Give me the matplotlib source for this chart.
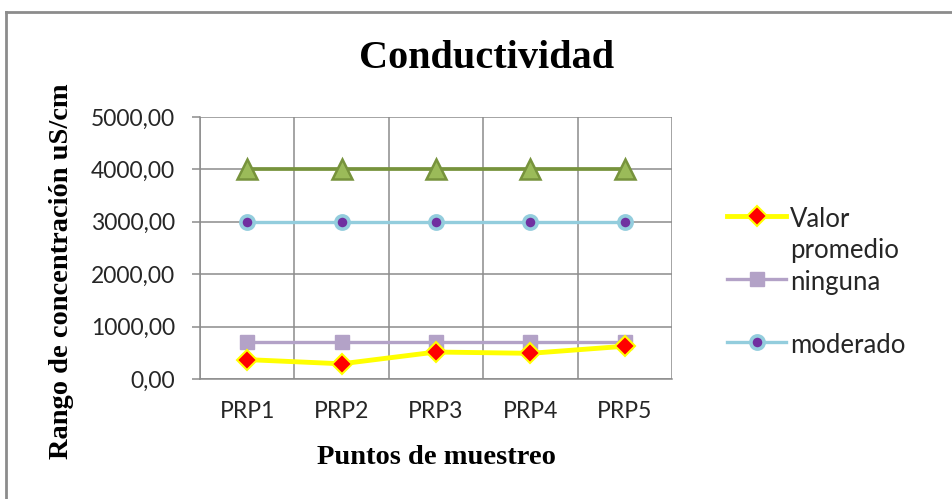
import numpy as np
import matplotlib.pyplot as plt
from matplotlib.lines import Line2D
from matplotlib.ticker import FuncFormatter

# datos
categorias = ['PRP1', 'PRP2', 'PRP3', 'PRP4', 'PRP5']
valor_promedio = [370, 290, 515, 490, 625]
ninguna = [710, 710, 710, 710, 710]
moderado = [3000, 3000, 3000, 3000, 3000]
severo = [4000, 4000, 4000, 4000, 4000]
yticks = [0, 1000, 2000, 3000, 4000, 5000]

W, H = 952, 499
fig = plt.figure(figsize=(W / 100, H / 100), dpi=100)
fig.patch.set_facecolor('white')

ax = fig.add_axes([200 / W, 1 - 379 / H, 472 / W, 262 / H])
x = np.arange(1, len(categorias) + 1)

ax.plot(x, valor_promedio, color='#FFFF00', lw=3.5, marker='D', ms=10.5,
        mfc='#FF0000', mec='#FFFF00', mew=1.5, label='Valor\npromedio', zorder=4)
ax.plot(x, ninguna, color='#B3A2C7', lw=2.4, marker='s', ms=10.5,
        mfc='#B3A2C7', mec='#B3A2C7', label='ninguna\n ', zorder=3)
ax.plot(x, moderado, color='#93CDDD', lw=2.4, marker='o', ms=9.5,
        mfc='#7030A0', mec='#93CDDD', mew=2.6, label='moderado', zorder=5)
ax.plot(x, severo, color='#77933C', lw=2.7, marker='^', ms=15,
        mfc='#9BBB59', mec='#77933C', mew=1.8, zorder=6)

ax.set_xlim(0.5, len(categorias) + 0.5)
ax.set_ylim(0, 5000)
ax.set_xticks(x)
ax.set_xticklabels(categorias)
ax.set_xticks(np.arange(0.5, len(categorias) + 1), minor=True)
ax.set_yticks(yticks)
ax.yaxis.set_major_formatter(FuncFormatter(lambda v, p: f'{v:.2f}'.replace('.', ',')))

grid_c = '#8c8c8c'
ax.grid(True, which='major', axis='y', color=grid_c, lw=1.1)
ax.grid(True, which='minor', axis='x', color=grid_c, lw=1.1)
for s in ['top', 'right']:
    ax.spines[s].set_visible(False)
for s in ['left', 'bottom']:
    ax.spines[s].set_color(grid_c)
    ax.spines[s].set_linewidth(1.1)
ax.tick_params(axis='y', which='major', length=6, width=1.1, color=grid_c,
               pad=12, labelsize=16.5, labelcolor='#262626')
ax.tick_params(axis='x', which='major', length=0, pad=16, labelsize=16.5,
               labelcolor='#262626')
ax.tick_params(axis='x', which='minor', length=0)
for lab in ax.get_xticklabels() + ax.get_yticklabels():
    lab.set_family('Lato')

fig.text(487 / W, 1 - 58 / H, 'Conductividad', ha='center', va='center',
         family='Liberation Serif', weight='bold', fontsize=29)
fig.text(436 / W, 1 - 458 / H, 'Puntos de muestreo', ha='center', va='center',
         family='Liberation Serif', weight='bold', fontsize=20.5)
fig.text(62 / W, 1 - 271 / H, 'Rango de concentración uS/cm', ha='center',
         va='center', rotation=90, family='Liberation Serif', weight='bold',
         fontsize=20.5)

leg = fig.legend(loc='upper left', bbox_to_anchor=(727 / W, 1 - 207 / H),
                 frameon=False, prop={'family': 'Lato', 'size': 18.5},
                 handlelength=2.3, handletextpad=0.15, labelspacing=0.28,
                 borderpad=0, borderaxespad=0)
for t in leg.get_texts():
    t.set_color('#262626')
    t.set_linespacing(1.28)
for item in leg._legend_handle_box.get_children()[0].get_children():
    item.align = 'top'

# marco del grafico
frame_c = '#8c8c8c'
fig.add_artist(Line2D([6 / W, 1], [1 - 12 / H, 1 - 12 / H], color=frame_c, lw=2))
fig.add_artist(Line2D([6 / W, 6 / W], [0, 1 - 12 / H], color=frame_c, lw=2))

fig.savefig('out.png', dpi=100)
